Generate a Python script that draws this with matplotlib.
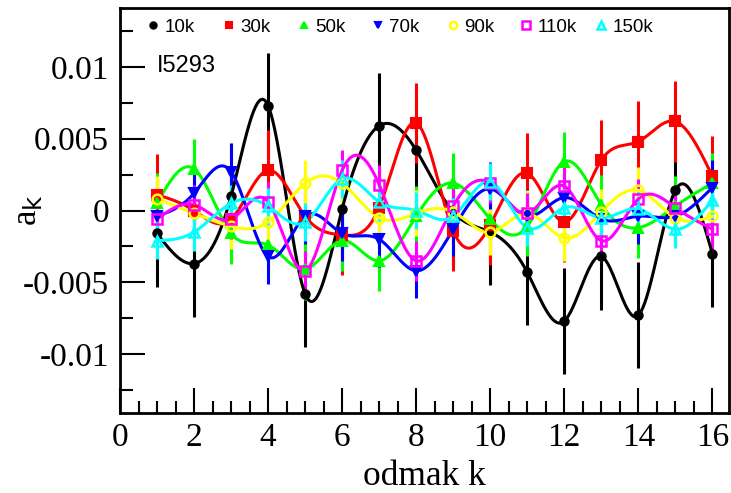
import numpy as np
import matplotlib
matplotlib.use("Agg")
import matplotlib.pyplot as plt
from matplotlib.legend import Legend
from matplotlib.ticker import MultipleLocator, FixedLocator, FixedFormatter

k = list(range(1, 17))

labels = ["10k", "30k", "50k", "70k", "90k", "110k", "150k"]

a_10k = [-0.0016, -0.0037, 0.0010, 0.0073, -0.0058, 0.0001, 0.0059, 0.0042,
         -0.0001, -0.0015, -0.0043, -0.0077, -0.0032, -0.0073, 0.0014, -0.0030]
a_30k = [0.0011, 0.0000, -0.0006, 0.0028, -0.0004, -0.0017, 0.0002, 0.0061,
         -0.0014, -0.0010, 0.0026, -0.0008, 0.0035, 0.0048, 0.0062, 0.0024]
a_50k = [0.0005, 0.0029, -0.0016, -0.0024, -0.0041, -0.0021, -0.0035, -0.0004,
         0.0019, -0.0006, -0.0011, 0.0034, 0.0004, -0.0012, 0.0003, 0.0019]
a_70k = [-0.0004, 0.0012, 0.0027, -0.0032, -0.0004, -0.0016, -0.0020, -0.0042,
         -0.0013, 0.0015, -0.0004, 0.0009, -0.0006, -0.0004, -0.0004, 0.0016]
a_90k = [0.0008, -0.0002, -0.0011, -0.0008, 0.0019, 0.0019, -0.0005, -0.0002,
         -0.0001, -0.0015, -0.0002, -0.0019, -0.0001, 0.0014, -0.0005, -0.0004]
a_110k = [-0.0006, 0.0004, -0.0006, 0.0006, -0.0042, 0.0028, 0.0018, -0.0035,
          0.0003, 0.0019, -0.0002, 0.0017, -0.0021, 0.0008, 0.0002, -0.0013]
a_150k = [-0.0021, -0.0015, 0.0005, 0.0003, -0.0008, 0.0022, 0.0006, 0.0000,
          -0.0004, 0.0020, -0.0012, 0.0002, -0.0005, 0.0001, -0.0013, 0.0007]

e_10k = [0.0037] * 16
e_30k = [0.0028] * 16
e_50k = [0.0021] * 16
e_70k = [0.0019] * 16
e_90k = [0.0016] * 16
e_110k = [0.0014] * 16
e_150k = [0.0013] * 16

series = [a_10k, a_30k, a_50k, a_70k, a_90k, a_110k, a_150k]
errors = [e_10k, e_30k, e_50k, e_70k, e_90k, e_110k, e_150k]
colors = ["black", "#ff0000", "#00ff00", "#0000ff", "#ffff00", "#ff00ff", "#00ffff"]
markers = ["o", "s", "^", "v", "o", "s", "^"]
filled = [True, True, True, True, False, False, False]
msizes = [6, 6.5, 6.5, 6.5, 7, 7, 7.5]


def natural_spline(x, y, n=600):
    x = np.asarray(x, float)
    y = np.asarray(y, float)
    m = len(x)
    h = np.diff(x)
    A = np.zeros((m, m))
    b = np.zeros(m)
    A[0, 0] = 1
    A[-1, -1] = 1
    for i in range(1, m - 1):
        A[i, i - 1] = h[i - 1]
        A[i, i] = 2 * (h[i - 1] + h[i])
        A[i, i + 1] = h[i]
        b[i] = 6 * ((y[i + 1] - y[i]) / h[i] - (y[i] - y[i - 1]) / h[i - 1])
    M = np.linalg.solve(A, b)
    xs = np.linspace(x[0], x[-1], n)
    idx = np.clip(np.searchsorted(x, xs) - 1, 0, m - 2)
    x0 = x[idx]; x1 = x[idx + 1]; hh = x1 - x0
    t0 = x1 - xs; t1 = xs - x0
    ys = (M[idx] * t0 ** 3 / (6 * hh) + M[idx + 1] * t1 ** 3 / (6 * hh)
          + (y[idx] / hh - M[idx] * hh / 6) * t0
          + (y[idx + 1] / hh - M[idx + 1] * hh / 6) * t1)
    return xs, ys


fig = plt.figure(figsize=(7.31, 4.93), dpi=100)
AX_L, AX_B, AX_W, AX_H = 120, 80, 609, 405
ax = fig.add_axes([AX_L / 731, AX_B / 493, AX_W / 731, AX_H / 493])

handles = []
for s, e, c, mk, f, ms, lab in zip(series, errors, colors, markers, filled, msizes, labels):
    ax.errorbar(k, s, yerr=e, fmt="none", ecolor=c, elinewidth=2.2, capsize=0, zorder=2)
    xs, ys = natural_spline(k, s)
    ax.plot(xs, ys, color=c, lw=2.2, zorder=3)
    if f:
        h, = ax.plot(k, s, ls="none", marker=mk, ms=ms, mfc=c, mec=c, mew=1.5, zorder=4, label=lab)
    else:
        h, = ax.plot(k, s, ls="none", marker=mk, ms=ms, mfc="none", mec=c, mew=1.8, zorder=4, label=lab)
    handles.append(h)

ax.set_xlim(0, 16.45)
ax.set_ylim(-0.0141, 0.0141)

ax.xaxis.set_major_locator(MultipleLocator(2))
ax.xaxis.set_minor_locator(MultipleLocator(0.5))
yt = [-0.01, -0.005, 0, 0.005, 0.01]
ax.yaxis.set_major_locator(FixedLocator(yt))
ax.yaxis.set_major_formatter(FixedFormatter(["-0.01", "-0.005", "0", "0.005", "0.01"]))
ax.yaxis.set_minor_locator(MultipleLocator(0.0025))
ax.tick_params(which="both", direction="in", top=False, right=False, width=1.5)
ax.tick_params(which="major", length=18, labelsize=24, pad=8)
ax.tick_params(axis="x", which="major", pad=7)
ax.tick_params(which="minor", length=9)
for lab in ax.get_xticklabels() + ax.get_yticklabels():
    lab.set_fontfamily("Liberation Serif")
for sp in ax.spines.values():
    sp.set_linewidth(2)

ax.set_xlabel("odmak k", fontsize=25.5, family="Liberation Serif", labelpad=5)
ax.set_ylabel(r"a$_{\rm k}$", fontsize=25, family="Liberation Serif")
ax.yaxis.set_label_coords(-0.125, 0.5)

ax.text((157 - AX_L) / AX_W, 1 - (66 - 8) / AX_H, "I5293", transform=ax.transAxes,
        fontsize=17, family="Liberation Sans", va="center", ha="left")

marker_px = [153, 229, 304, 378, 453, 526, 601]
for h, lab, mx in zip(handles, labels, marker_px):
    lg = Legend(ax, [h], [lab], loc="center left",
                bbox_to_anchor=((mx - 7.5 - AX_L) / AX_W, 1 - (27 - 8) / AX_H),
                frameon=False, handlelength=0.8, handletextpad=0.2,
                borderaxespad=0, borderpad=0,
                prop={"family": "Liberation Sans", "size": 13.5}, markerscale=0.75)
    ax.add_artist(lg)

fig.savefig("out.png", dpi=100)
